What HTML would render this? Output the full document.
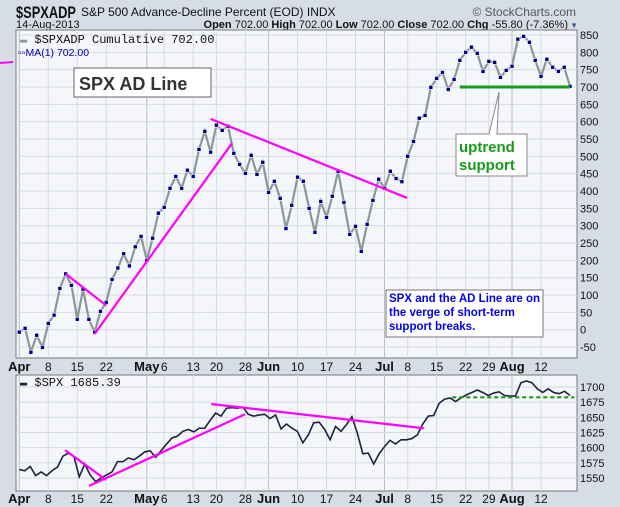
<!DOCTYPE html>
<html><head><meta charset="utf-8"><style>
body{margin:0;background:#d7dde7;}
svg{display:block;font-family:"Liberation Sans",sans-serif;}
</style></head><body>
<svg id="c" width="620" height="507" viewBox="0 0 620 507" xmlns="http://www.w3.org/2000/svg">
<rect x="0" y="0" width="620" height="507" fill="#d7dde7"/>
<text x="16" y="18" font-size="17" font-weight="bold" fill="#111" textLength="60" lengthAdjust="spacingAndGlyphs">$SPXADP</text>
<text x="81" y="16" font-size="12" fill="#111">S&amp;P 500 Advance-Decline Percent (EOD) INDX</text>
<text x="576" y="16" font-size="12" fill="#555" text-anchor="end">© StockCharts.com</text>
<text x="16" y="28" font-size="11" fill="#111">14-Aug-2013</text>
<text x="568" y="28" font-size="11" fill="#111" text-anchor="end"><tspan font-weight="bold">Open</tspan> 702.00  <tspan font-weight="bold">High</tspan> 702.00  <tspan font-weight="bold">Low</tspan> 702.00  <tspan font-weight="bold">Close</tspan> 702.00  <tspan font-weight="bold">Chg</tspan> -55.80 (-7.36%)</text>
<text x="578" y="28" font-size="8" fill="#3a5a9a" text-anchor="end">▼</text>
<rect x="16" y="30" width="561" height="328" fill="#f4f6fa" stroke="#777"/>
<rect x="16" y="375" width="561" height="116" fill="#f4f6fa" stroke="#777"/>
<g id="grid"></g>
<g id="series"></g>
<g id="ann"></g>
<text x="20" y="43" font-size="12" font-family="Liberation Mono, monospace" fill="#111"><tspan fill="#8a969e">▬</tspan> $SPXADP  Cumulative 702.00</text>
<text x="18" y="56" font-size="10.5" fill="#0000aa">▫▫MA(1) 702.00</text>
<text x="20" y="386" font-size="12" font-family="Liberation Mono, monospace" fill="#111"><tspan fill="#1a2440">▬</tspan> $SPX 1685.39</text>
<line x1="0" y1="63" x2="13" y2="62" stroke="#ff00ff" stroke-width="2"/>
<rect x="74" y="68" width="137" height="29" fill="#fff" stroke="#666"/>
<text x="79" y="90" font-size="18" font-weight="bold" fill="#333">SPX AD Line</text>
<rect x="386" y="290" width="157" height="47" fill="#fff" stroke="#777"/>
<text font-size="11.5" font-weight="bold" fill="#0000ee"><tspan x="389" y="302">SPX and the AD Line are on</tspan><tspan x="389" y="316">the verge of short-term</tspan><tspan x="389" y="330">support breaks.</tspan></text>
<polygon points="489,134 499,92 497,134" fill="#fff" stroke="#888"/>
<rect x="456" y="134" width="71" height="42" fill="#fff" stroke="#888"/>
<line x1="489.5" y1="134" x2="496.5" y2="134" stroke="#fff" stroke-width="2"/>
<text font-size="15" font-weight="bold" fill="#169b16"><tspan x="459" y="152">uptrend</tspan><tspan x="459" y="170">support</tspan></text>
</svg>
<script>
const adValues=[-7,4,-65,-16,-51,18,42,119,161,128,30,117,30,-7,53,79,145,178,219,184,239,269,200,264,336,353,408,442,408,460,442,520,572,512,590,575,587,509,477,451,503,448,483,396,428,379,292,359,440,428,350,281,370,324,385,457,367,275,298,226,304,373,434,408,457,436,427,500,543,610,618,699,725,742,693,722,777,800,815,797,745,774,771,728,748,760,838,846,829,777,731,780,757,745,757,702];
const spxValues=[1564,1562,1569,1554,1560,1554,1562,1568,1586,1591,1586,1552,1573,1555,1544,1550,1555,1560,1577,1577,1583,1580,1586,1593,1595,1584,1595,1606,1616,1619,1627,1630,1626,1632,1632,1645,1657,1652,1665,1666,1665,1667,1655,1652,1654,1655,1648,1654,1631,1639,1632,1627,1608,1621,1641,1642,1630,1613,1635,1627,1638,1651,1624,1590,1591,1573,1590,1602,1612,1606,1613,1613,1615,1621,1639,1652,1653,1673,1680,1682,1676,1682,1687,1691,1695,1691,1686,1690,1692,1686,1685,1685,1707,1710,1707,1697,1691,1697,1691,1689,1693,1686];
const xLabels=["Apr","8","15","22","May","6","13","20","28","Jun","10","17","24","Jul","8","15","22","29","Aug","12"];
const xLabelIdx=[0,5,10,15,22,25,30,34,39,43,48,53,58,63,67,72,77,81,85,90];
const monthLabels=["Apr","May","Jun","Jul","Aug"];
const adTicks=[850,800,750,700,650,600,550,500,450,400,350,300,250,200,150,100,50,0,-50];
const spxTicks=[1700,1675,1650,1625,1600,1575,1550];
const adTrendStart=[[8,161],[13,-12],[33,608],[76,700]];
const adTrendEnd=[[15,70],[36.7,538],[66.9,380],[95,700]];
const spxTrendStart=[[8.4,1596],[12.8,1537],[35.2,1672],[79.4,1683]];
const spxTrendEnd=[[15.9,1547],[41.4,1655],[74.2,1632],[101.8,1683]];

const NS="http://www.w3.org/2000/svg";
const X0=19.3,X1=570;
function xAD(i){return X0+i*(X1-X0)/(adValues.length-1);}
function xSPX(i){return X0+i*(X1-X0)/(spxValues.length-1);}
function yAD(v){return 329.7-v*0.3467;}
function ySPX(v){return 387+(1700-v)*0.6067;}
function mk(tag,attrs,parent){const e=document.createElementNS(NS,tag);for(const k in attrs)e.setAttribute(k,attrs[k]);parent.appendChild(e);return e;}
const grid=document.getElementById('grid'),ser=document.getElementById('series'),ann=document.getElementById('ann');

xLabelIdx.forEach((idx,k)=>{
  const x=xAD(idx);const isM=monthLabels.includes(xLabels[k]);
  let l=mk('line',{x1:x,y1:30,x2:x,y2:358,stroke:isM?'#b8bec8':'#d6dae2','stroke-width':1},grid);
  
  
  l=mk('line',{x1:x,y1:375,x2:x,y2:491,stroke:isM?'#b8bec8':'#d6dae2','stroke-width':1},grid);
  
  
  [371,503].forEach((yy,j)=>{
    const t=mk('text',{x:x,y:yy,'font-size':isM?13:12,'font-weight':isM?'bold':'normal','text-anchor':'middle',fill:'#111'},grid);
    t.textContent=xLabels[k];
    
    
  });
});
adTicks.forEach(v=>{
  const y=yAD(v);
  const l=mk('line',{x1:16,y1:y,x2:577,y2:y,stroke:'#d6dae2','stroke-width':1},grid);
  
  
  const t=mk('text',{x:580,y:y+4,'font-size':11,fill:'#111'},grid);
  t.textContent=v;
  
  
});
spxTicks.forEach(v=>{
  const y=ySPX(v);
  const l=mk('line',{x1:16,y1:y,x2:577,y2:y,stroke:'#d6dae2','stroke-width':1},grid);
  
  
  const t=mk('text',{x:580,y:y+4,'font-size':11,fill:'#111'},grid);
  t.textContent=v;
  
  
});

let p=mk('polyline',{points:adValues.map((v,i)=>xAD(i)+','+yAD(v)).join(' '),fill:'none',stroke:'#8a969e','stroke-width':2.2},ser);


adValues.forEach((v,i)=>{
  const r=mk('rect',{x:xAD(i)-2,y:yAD(v)-2,width:4,height:4,fill:'#00008b',stroke:'#ffffff','stroke-width':0.6},ser);
  
  
});
p=mk('polyline',{points:spxValues.map((v,i)=>xSPX(i)+','+ySPX(v)).join(' '),fill:'none',stroke:'#1a2440','stroke-width':1.6},ser);



adTrendStart.forEach((s,k)=>{
  const e=adTrendEnd[k];const green=k===3;
  const l=mk('line',{x1:xAD(s[0]),y1:yAD(s[1]),x2:xAD(e[0]),y2:yAD(e[1]),stroke:green?'#1a9a1a':'#ff00ff','stroke-width':green?3:2.2},ann);
  
  
});
spxTrendStart.forEach((s,k)=>{
  const e=spxTrendEnd[k];const green=k===3;
  const l=mk('line',{x1:xSPX(s[0]),y1:ySPX(s[1]),x2:xSPX(e[0]),y2:ySPX(e[1]),stroke:green?'#1a9a1a':'#ff00ff','stroke-width':2.2,'stroke-dasharray':green?'4,3':'none'},ann);
  
  
});
</script>
</body></html>
